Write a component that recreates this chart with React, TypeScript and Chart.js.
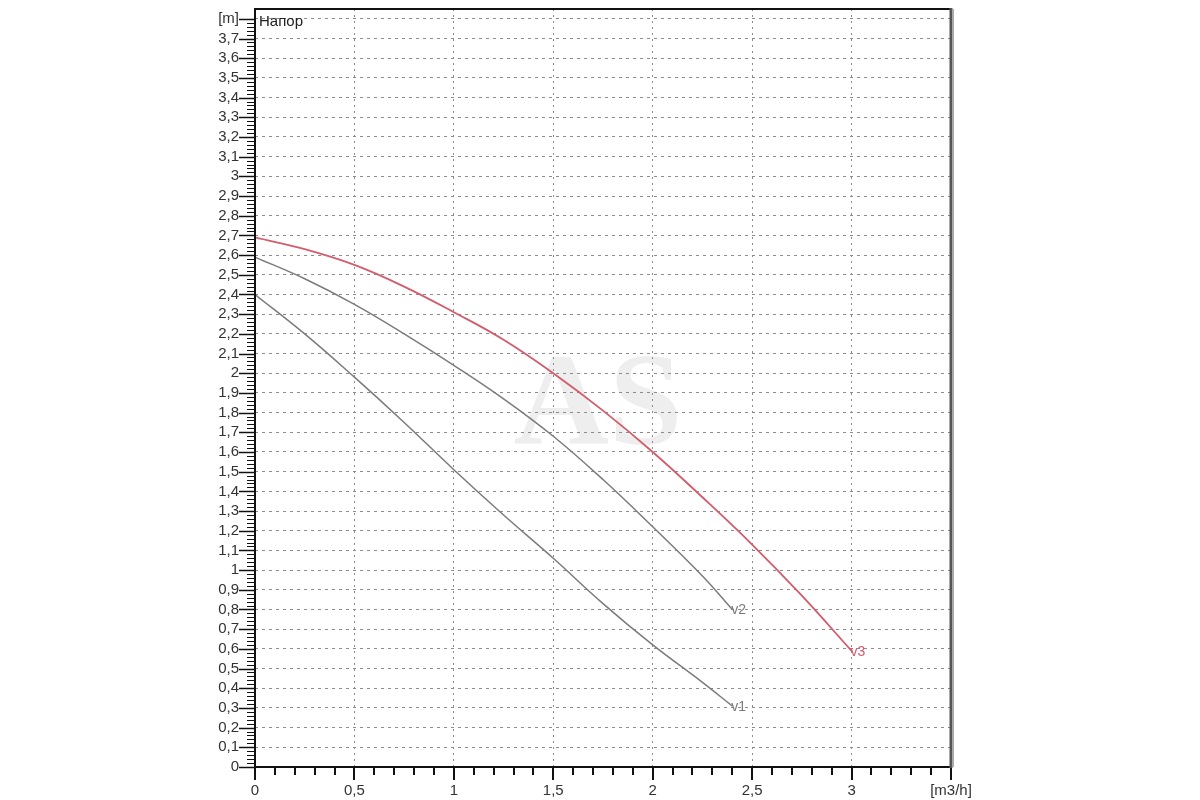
import { useEffect, useRef } from 'react';
import { Chart, registerables } from 'chart.js';

Chart.register(...registerables);

// ---- data ----
const flowV1 = [0, 0.25, 0.5, 0.75, 1, 1.25, 1.5, 1.75, 2, 2.25, 2.4];
const headV1 = [2.4, 2.2, 1.98, 1.75, 1.51, 1.28, 1.06, 0.83, 0.62, 0.43, 0.31];

const flowV2 = [0, 0.25, 0.5, 0.75, 1, 1.25, 1.5, 1.75, 2, 2.25, 2.4];
const headV2 = [2.59, 2.48, 2.35, 2.2, 2.04, 1.87, 1.68, 1.46, 1.22, 0.97, 0.8];

const flowV3 = [0, 0.25, 0.5, 0.75, 1, 1.25, 1.5, 1.75, 2, 2.25, 2.5, 2.75, 3];
const headV3 = [2.69, 2.63, 2.55, 2.44, 2.31, 2.17, 2.0, 1.81, 1.6, 1.37, 1.13, 0.87, 0.59];

const seriesNames = ['v1', 'v2', 'v3'];
const seriesColors = ['#7b7b7b', '#7b7b7b', '#d35b6b'];

const xTickLabels = ['0', '0,5', '1', '1,5', '2', '2,5', '3', '[m3/h]'];
const yTickLabels = [
  '0', '0,1', '0,2', '0,3', '0,4', '0,5', '0,6', '0,7', '0,8', '0,9',
  '1', '1,1', '1,2', '1,3', '1,4', '1,5', '1,6', '1,7', '1,8', '1,9',
  '2', '2,1', '2,2', '2,3', '2,4', '2,5', '2,6', '2,7', '2,8', '2,9',
  '3', '3,1', '3,2', '3,3', '3,4', '3,5', '3,6', '3,7', '[m]',
];
const xStep = 0.5;
const yStep = 0.1;
const xMinorStep = 0.1;
const yMinorStep = 0.02;
const xMax = 3.5;
const yMax = 3.85;
const plotTitle = 'Напор';
const watermark = 'AS';

const FONT = '"Liberation Sans", Arial, sans-serif';

const toPoints = (xs: number[], ys: number[]) => xs.map((x, i) => ({ x, y: ys[i] }));

const decorPlugin = {
  id: 'decor',
  beforeDraw(chart: any) {
    const { ctx, chartArea } = chart;
    ctx.save();
    ctx.fillStyle = '#ffffff';
    ctx.fillRect(0, 0, chart.width, chart.height);
    ctx.fillStyle = '#eeeeee';
    ctx.font = 'bold 132px "Liberation Serif", "Times New Roman", serif';
    ctx.textAlign = 'center';
    ctx.textBaseline = 'alphabetic';
    const cx = (chartArea.left + chartArea.right) / 2 - 5;
    ctx.fillText(watermark, cx, 444);
    ctx.restore();
  },
  afterDatasetsDraw(chart: any) {
    const { ctx } = chart;
    ctx.save();
    ctx.font = `14px ${FONT}`;
    ctx.textAlign = 'left';
    ctx.textBaseline = 'middle';
    chart.data.datasets.forEach((ds: any, i: number) => {
      const meta = chart.getDatasetMeta(i);
      const last = meta.data[meta.data.length - 1];
      if (!last) return;
      ctx.fillStyle = ds.borderColor;
      ctx.fillText(seriesNames[i], last.x - 1, last.y + 1);
    });
    ctx.restore();
  },
  afterDraw(chart: any) {
    const { ctx, chartArea, scales } = chart;
    const { left, right, top, bottom } = chartArea;
    ctx.save();
    // minor & major ticks on the y axis
    ctx.strokeStyle = '#111';
    const yCount = Math.round(3.8 / yMinorStep);
    for (let i = 0; i <= yCount; i++) {
      const v = i * yMinorStep;
      const py = Math.round(scales.y.getPixelForValue(v)) + 0.5;
      const major = i % Math.round(yStep / yMinorStep) === 0;
      ctx.lineWidth = major ? 1.5 : 1;
      ctx.beginPath();
      ctx.moveTo(left - (major ? 16 : 8), py);
      ctx.lineTo(left, py);
      ctx.stroke();
    }
    // minor & major ticks on the x axis
    ctx.lineWidth = 2;
    const xCount = Math.round(xMax / xMinorStep);
    for (let i = 0; i <= xCount; i++) {
      const v = i * xMinorStep;
      const px = Math.round(scales.x.getPixelForValue(v));
      const major = i % Math.round(xStep / xMinorStep) === 0;
      ctx.beginPath();
      ctx.moveTo(px, bottom);
      ctx.lineTo(px, bottom + (major ? 13 : 8));
      ctx.stroke();
    }
    // frame
    ctx.strokeStyle = '#111';
    ctx.lineWidth = 2;
    ctx.beginPath();
    ctx.moveTo(left, bottom);
    ctx.lineTo(left, top);
    ctx.lineTo(right, top);
    ctx.moveTo(left, bottom);
    ctx.lineTo(right, bottom);
    ctx.stroke();
    ctx.strokeStyle = '#555';
    ctx.lineWidth = 3;
    ctx.beginPath();
    ctx.moveTo(right, top - 1);
    ctx.lineTo(right, bottom + 1);
    ctx.stroke();
    ctx.strokeStyle = '#aaa';
    ctx.lineWidth = 1;
    ctx.beginPath();
    ctx.moveTo(right + 2.5, top);
    ctx.lineTo(right + 2.5, bottom);
    ctx.stroke();
    // title inside the plot
    ctx.fillStyle = '#222';
    ctx.font = `15px ${FONT}`;
    ctx.textAlign = 'left';
    ctx.textBaseline = 'middle';
    ctx.fillText(plotTitle, left + 4, top + 13);
    ctx.restore();
  },
};

export default function App() {
  const canvasRef = useRef<HTMLCanvasElement | null>(null);

  useEffect(() => {
    const canvas = canvasRef.current;
    if (!canvas) return;
    const flows = [flowV1, flowV2, flowV3];
    const heads = [headV1, headV2, headV3];
    const chart = new Chart(canvas, {
      type: 'line',
      data: {
        datasets: seriesNames.map((name, i) => ({
          label: name,
          data: toPoints(flows[i], heads[i]),
          borderColor: seriesColors[i],
          borderWidth: i === 2 ? 1.8 : 1.5,
          pointRadius: 0,
          fill: false,
          tension: 0.4,
        })),
      },
      options: {
        animation: false,
        responsive: true,
        maintainAspectRatio: false,
        layout: { padding: { left: 0, right: 249, top: 9, bottom: 0 } },
        plugins: {
          legend: { display: false },
          tooltip: { enabled: false },
        },
        scales: {
          x: {
            type: 'linear',
            min: 0,
            max: xMax,
            afterBuildTicks: (s: any) => {
              s.ticks = xTickLabels.map((_, i) => ({ value: +(i * xStep).toFixed(2) }));
            },
            afterFit: (s: any) => {
              s.height = 33;
              s.paddingLeft = 0;
              s.paddingRight = 0;
            },
            ticks: {
              autoSkip: false,
              maxRotation: 0,
              padding: 15,
              color: '#333',
              font: { family: FONT, size: 15 },
              callback: (_v: any, i: number) => xTickLabels[i],
            },
            grid: {
              drawTicks: false,
              color: '#8c8c8c',
              lineWidth: 1,
            },
            border: { display: false, dash: [2, 4] },
          },
          y: {
            type: 'linear',
            min: 0,
            max: yMax,
            afterBuildTicks: (s: any) => {
              s.ticks = yTickLabels.map((_, i) => ({ value: +(i * yStep).toFixed(2) }));
            },
            afterFit: (s: any) => {
              s.width = 255;
              s.paddingTop = 0;
              s.paddingBottom = 0;
            },
            ticks: {
              autoSkip: false,
              padding: 16,
              color: '#333',
              font: { family: FONT, size: 15 },
              callback: (_v: any, i: number) => yTickLabels[i],
            },
            grid: {
              drawTicks: false,
              color: '#8c8c8c',
              lineWidth: 1,
            },
            border: { display: false, dash: [3, 4] },
          },
        },
      },
      plugins: [decorPlugin],
    });
    return () => chart.destroy();
  }, []);

  return (
    <div style={{ position: 'fixed', left: 0, top: 0, width: 1200, height: 800, background: '#fff' }}>
      <canvas ref={canvasRef} />
    </div>
  );
}
